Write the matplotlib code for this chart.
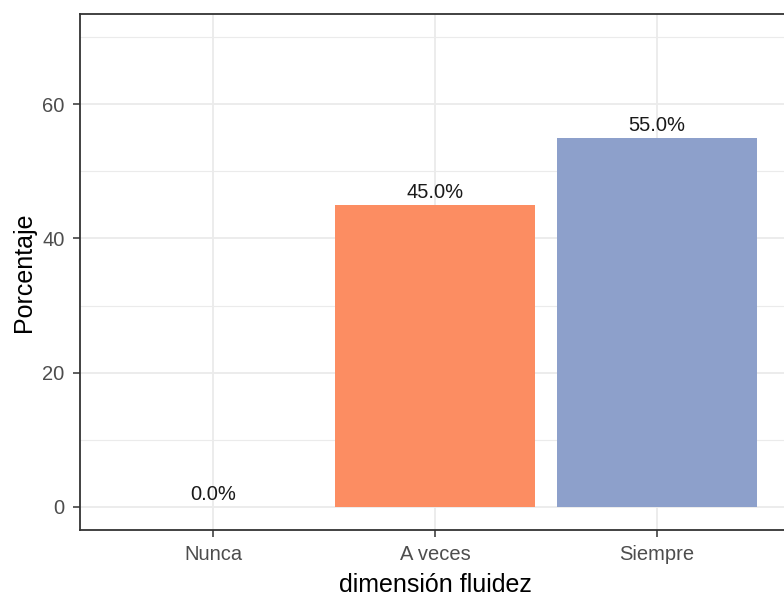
import matplotlib
matplotlib.use("Agg")
import matplotlib.pyplot as plt

categories = ["Nunca", "A veces", "Siempre"]
values = [0.0, 45.0, 55.0]
colors = ["#66C2A5", "#FC8D62", "#8DA0CB"]
labels = [f"{v:.1f}%" for v in values]

plt.rcParams['font.family'] = ['Liberation Sans', 'DejaVu Sans']

W, H = 784, 597
fig = plt.figure(figsize=(W/100, H/100), dpi=100)
ax = fig.add_axes([80/W, 67/H, 710/W, 516/H])

x = list(range(1, len(categories)+1))
ax.bar(x, values, width=0.9, color=colors, zorder=2)
for xi, v, lab in zip(x, values, labels):
    ax.annotate(lab, (xi, v), xytext=(0, 2), textcoords="offset points",
                ha="center", va="bottom", fontsize=14.5, color="#1a1a1a", zorder=3)

ax.set_xlim(0.4, 3.6)
ax.set_ylim(-3.5, 73.5)
ax.set_xticks(x)
ax.set_xticklabels(categories)
ax.set_yticks([0, 20, 40, 60])
ax.set_yticks([10, 30, 50, 70], minor=True)
ax.grid(which="major", color="#EBEBEB", linewidth=1.3, zorder=0)
ax.grid(which="minor", axis="y", color="#EBEBEB", linewidth=0.8, zorder=0)
ax.tick_params(which="minor", length=0)
ax.tick_params(which="major", length=5, width=1.1, color="#333333", labelcolor="#4D4D4D",
               labelsize=14.5)
ax.tick_params(axis="x", which="major", pad=6)
ax.tick_params(axis="y", which="major", pad=6)
for s in ax.spines.values():
    s.set_color("#333333")
    s.set_linewidth(1.3)
ax.set_axisbelow(True)
ax.set_xlabel("dimensión fluidez", fontsize=18, color="black", labelpad=6)
ax.set_ylabel("Porcentaje", fontsize=18, color="black", labelpad=4.5)

fig.savefig("out.png", dpi=100)
